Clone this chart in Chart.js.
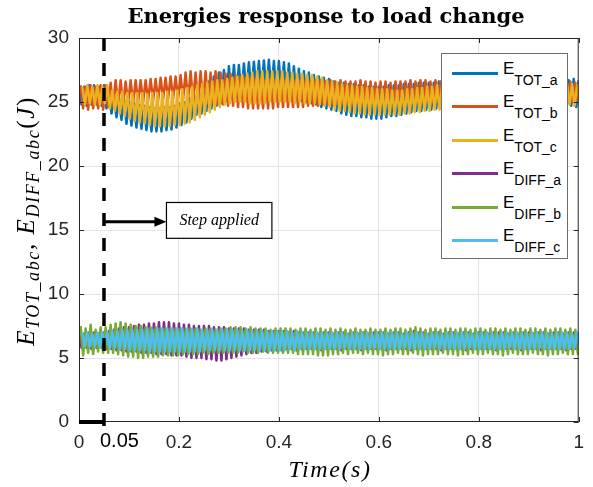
<!DOCTYPE html>
<html>
<head>
<meta charset="utf-8">
<script src="https://cdn.jsdelivr.net/npm/chart.js@4.4.1/dist/chart.umd.min.js"></script>
<style>
  body { margin: 0; background: #fff; }
  #wrap { position: relative; width: 593px; height: 487px; }
  #title { position: absolute; left: 75px; width: 502px; top: 3px; text-align: center;
           font: bold 21px "DejaVu Serif"; color: #000; white-space: nowrap; }
  #xlabel { position: absolute; left: 79px; width: 502px; top: 456px; text-align: center;
            font: italic 24px "Liberation Serif"; letter-spacing: 1.6px; color: #000; }
  #ylabel { position: absolute; left: -123px; top: 206px; width: 300px; height: 30px; line-height: 30px;
            text-align: center; transform: rotate(-90deg); transform-origin: 150px 15px;
            font: italic 25px "Liberation Serif"; letter-spacing: 1.6px; color: #000; white-space: nowrap; }
  #ylabel span.s { font-size: 18px; position: relative; top: 5px; }
  #ylabel span.u { font-style: normal; }
  #legend { position: absolute; left: 441px; top: 53px; width: 125px; height: 204px;
            background: #fff; border: 1px solid #6e6e6e; }
  .row { position: absolute; left: 0; height: 30px; width: 125px; }
  .row .ln { position: absolute; left: 10px; top: 14px; width: 46px; height: 3px; }
  .row .tx { position: absolute; left: 61px; top: 1px; font: 17px "Liberation Sans"; color: #000; white-space: nowrap; }
  .row .tx span { font-size: 14px; position: relative; top: 11px; }
</style>
</head>
<body>
<div id="wrap">
  <canvas id="chart" width="593" height="487"></canvas>
  <div id="title">Energies response to load change</div>
  <div id="xlabel">Time(s)</div>
  <div id="ylabel">E<span class="s">TOT_abc</span>, E<span class="s">DIFF_abc</span><span class="u">(</span>J<span class="u">)</span></div>
  <div id="legend"></div>
</div>
<script>
// ripple peaks (hi, at t = k*0.01) and troughs (lo, at t = k*0.01 + 0.005)
const totAHi = [26.3,26.2,26.3,26.3,26.2,26.3, 25.8,25.5,25.3,25.2,25.0, 24.9,24.8,24.7,24.6,24.5,
  24.5,24.6,24.6,24.7,24.9, 25.0,25.3,25.6,25.9,26.3, 26.6,27.0,27.3,27.5,27.8, 27.9,27.9,28.0,28.1,28.15,
  28.2,28.25,28.3,28.2,28.2, 28.1,28.0,27.8,27.6,27.4, 27.3,27.1,27.0,26.9,26.8, 26.6,26.5,26.5,26.4,26.4,
  26.3,26.3,26.2,26.2,26.2, 26.2,26.3,26.3,26.3,26.4, 26.4,26.4,26.5,26.5,26.5,
  26.5,26.6,26.5,26.6,26.6,26.5,26.6,26.6,26.7,26.6, 26.6,26.7,26.6,26.7,26.7,26.6,26.7,26.7,26.6,26.7,
  26.7,26.7,26.6,26.7,26.7,26.8,26.7,26.7,26.8,26.7];
const totALo = [24.8,24.7,24.8,24.8,24.7, 24.5,24.1,23.8,23.6,23.3, 23.15,23.0,22.9,22.8,22.7, 22.7,22.7,22.8,22.85,23.0,
  23.2,23.4,23.7,24.0,24.1, 24.3,24.5,24.7,24.9,25.1, 25.3,25.4,25.5,25.6,25.7, 25.7,25.7,25.7,25.6,25.6,
  25.5,25.4,25.3,25.2,25.1, 25.0,24.9,24.8,24.6,24.5, 24.4,24.3,24.1,24.0,23.9, 23.9,23.8,23.8,23.7,23.7,
  23.7,23.8,23.9,23.9,24.0, 24.1,24.2,24.3,24.3,24.4, 24.4,24.5,24.5,24.5,24.6,24.5,24.6,24.6,24.5,24.6,
  24.6,24.6,24.7,24.6,24.6,24.7,24.6,24.7,24.7,24.6, 24.7,24.6,24.7,24.7,24.6,24.7,24.7,24.6,24.7,24.6];
const totBHi = [26.3,26.2,26.3,26.2,26.3,26.3, 26.5,26.7,26.7,26.6,26.7, 26.7,26.7,26.7,26.8,26.8,
  26.9,26.9,27.0,27.0,27.1, 27.3,27.4,27.3,27.4,27.4, 27.3,27.4,27.3,27.2,27.2, 27.1,27.0,26.9,26.9,26.8,
  26.8,26.7,26.8,26.7,26.7,26.7,26.6,26.7,26.7,26.7,26.6,26.7,26.7,26.6,26.7,
  26.6,26.7,26.6,26.6,26.6,26.7,26.6,26.6,26.5,26.6, 26.6,26.5,26.6,26.6,26.6,26.7,26.6,26.7,26.7,26.6,
  26.7,26.6,26.6,26.7,26.6,26.6,26.5,26.6,26.6,26.5, 26.6,26.5,26.6,26.5,26.6,26.6,26.5,26.5,26.6,26.5,
  26.5,26.6,26.5,26.5,26.6,26.5,26.5,26.6,26.5,26.5];
const totBLo = [24.5,24.4,24.5,24.5,24.4, 24.6,24.7,24.8,24.8,24.9, 24.9,25.0,25.0,25.1,25.1, 25.1,25.2,25.2,25.2,25.2,
  25.2,25.1,25.1,25.0,25.0, 24.9,24.9,24.8,24.8,24.7, 24.7,24.6,24.6,24.5,24.5, 24.5,24.5,24.5,24.5,24.6,
  24.6,24.6,24.6,24.6,24.6, 24.7,24.7,24.7,24.8,24.8, 24.8,24.8,24.9,24.8,24.9,24.9,24.9,24.9,24.9,24.9,
  24.9,25.0,24.9,25.0,25.0,25.0,24.9,25.0,25.0,25.0, 25.0,25.0,25.0,24.9,25.0,25.0,25.0,25.0,24.9,25.0,
  25.0,25.0,25.0,25.0,24.9,25.0,25.0,25.0,25.0,25.0, 25.0,24.9,25.0,25.0,25.0,25.0,25.0,24.9,25.0,25.0];
const totCHi = [26.2,26.3,26.2,26.3,26.2,26.3, 25.9,25.8,25.8,25.7,25.7, 25.7,25.7,25.6,25.7,25.7,
  25.7,25.8,25.8,25.9,26.0, 26.1,26.2,26.3,26.4,26.5, 26.6,26.7,26.7,26.8,26.9, 27.0,27.1,27.2,27.3,27.4,
  27.4,27.4,27.4,27.4,27.4, 27.3,27.3,27.2,27.2,27.1, 27.1,27.0,26.9,26.7,26.6, 26.5,26.4,26.3,26.3,26.2,
  26.2,26.1,26.1,26.0,26.0, 26.0,25.9,25.9,25.9,26.0, 26.0,26.1,26.1,26.2,26.2,
  26.3,26.3,26.3,26.3,26.4,26.3,26.4,26.4,26.4,26.4, 26.4,26.3,26.4,26.4,26.4,26.3,26.4,26.4,26.4,26.3,
  26.4,26.4,26.4,26.3,26.4,26.4,26.4,26.4,26.3,26.4];
const totCLo = [24.8,24.9,24.8,24.8,24.9, 24.5,24.3,24.1,23.9,23.7, 23.5,23.4,23.3,23.2,23.1, 23.1,23.1,23.1,23.2,23.2,
  23.3,23.4,23.6,23.8,24.0, 24.2,24.4,24.6,24.8,24.9, 25.0,25.0,25.0,24.9,24.9, 24.9,24.9,25.0,25.0,25.0,
  25.0,25.0,24.9,25.0,24.9, 24.9,24.9,24.8,24.7,24.6, 24.4,24.3,24.3,24.2,24.1, 24.1,24.0,24.0,24.0,24.0,
  24.0,24.0,24.0,24.0,24.1, 24.1,24.2,24.2,24.3,24.3, 24.4,24.4,24.5,24.5,24.5,24.6,24.6,24.6,24.7,24.7,
  24.7,24.7,24.7,24.8,24.7,24.8,24.8,24.7,24.8,24.8, 24.8,24.8,24.7,24.8,24.8,24.8,24.8,24.8,24.7,24.8];
const diffAHi = [7.0,6.9,7.0,7.0,6.9,7.0, 7.1,7.2,7.3,7.4,7.4, 7.5,7.6,7.6,7.7,7.7, 7.8,7.8,7.8,7.7,7.7,
  7.6,7.6,7.5,7.5,7.5, 7.5,7.4,7.4,7.4,7.3, 7.3,7.3,7.3,7.2,7.2, 7.2,7.2,7.1,7.1,7.1,
  7.1,7.0,7.1,7.0,7.0,7.0,7.0,6.9,7.0,7.0, 6.9,7.0,7.0,6.9,7.0,6.9,7.0,6.9,7.0,7.0,
  7.0,6.9,7.0,7.0,6.9,7.0,7.1,7.0,7.0,6.9, 7.0,7.0,6.9,7.0,7.0,6.9,7.0,7.0,6.9,7.0,
  7.0,6.9,7.0,7.0,7.0,6.9,7.0,6.9,7.0,7.0, 6.9,7.0,7.0,6.9,7.0,7.0,6.9,7.0,7.0,6.9];
const diffALo = [5.8,5.8,5.7,5.8,5.8, 5.7,5.7,5.6,5.6,5.5, 5.5,5.5,5.4,5.4,5.4, 5.3,5.3,5.3,5.2,5.2,
  5.2,5.1,5.0,5.0,5.0, 4.9,4.9,4.8,4.8,4.9, 5.0,5.1,5.2,5.3,5.4, 5.4,5.5,5.5,5.6,5.6,
  5.6,5.7,5.7,5.6,5.7,5.7,5.7,5.7,5.6,5.7, 5.7,5.7,5.6,5.7,5.7,5.7,5.6,5.7,5.7,5.7,
  5.7,5.6,5.7,5.7,5.7,5.7,5.6,5.7,5.7,5.7, 5.7,5.7,5.6,5.7,5.7,5.7,5.7,5.6,5.7,5.7,
  5.7,5.7,5.7,5.6,5.7,5.7,5.7,5.7,5.6,5.7, 5.7,5.7,5.6,5.7,5.7,5.7,5.7,5.6,5.7,5.7];
const diffBHi = [7.5,7.3,7.6,7.2,7.4,7.4, 7.6,7.7,7.8,7.7,7.6, 7.5,7.5,7.4,7.4,7.4, 7.3,7.3,7.3,7.3,7.3,
  7.2,7.3,7.3,7.2,7.3,7.3,7.2,7.3,7.3,7.4, 7.4,7.4,7.3,7.4,7.3,7.3,7.3,7.2,7.3,7.3,
  7.3,7.3,7.2,7.3,7.3,7.2,7.3,7.3,7.2,7.3, 7.2,7.3,7.2,7.2,7.3,7.2,7.2,7.3,7.2,7.2,
  7.3,7.2,7.3,7.3,7.2,7.3,7.4,7.3,7.2,7.3, 7.3,7.2,7.3,7.3,7.2,7.3,7.3,7.2,7.3,7.3,
  7.2,7.3,7.3,7.2,7.3,7.2,7.3,7.3,7.2,7.3, 7.3,7.2,7.3,7.2,7.3,7.3,7.2,7.3,7.2,7.3];
const diffBLo = [5.2,5.4,5.3,5.5,5.4, 5.4,5.4,5.3,5.2,5.1, 5.1,5.0,5.0,5.1,5.1, 5.1,5.2,5.2,5.2,5.2,
  5.3,5.3,5.3,5.3,5.4,5.3,5.4,5.4,5.4,5.4, 5.4,5.4,5.5,5.4,5.4,5.4,5.5,5.4,5.4,5.4,
  5.4,5.4,5.4,5.3,5.3,5.3,5.3,5.2,5.2,5.2, 5.3,5.3,5.4,5.3,5.4,5.4,5.3,5.4,5.3,5.3,
  5.2,5.3,5.3,5.4,5.3,5.3,5.4,5.3,5.2,5.3, 5.3,5.3,5.4,5.3,5.3,5.2,5.3,5.3,5.4,5.3,
  5.3,5.4,5.3,5.3,5.2,5.3,5.4,5.3,5.3,5.3, 5.4,5.3,5.3,5.2,5.3,5.3,5.4,5.3,5.3,5.3];
const diffCHi = [7.0,7.0,6.9,7.0,7.0,7.0, 7.1,7.1,7.2,7.2,7.2,
  7.2,7.2,7.3,7.2,7.3,7.3,7.3,7.3,7.3,7.3, 7.3,7.2,7.3,7.2,7.2,7.2,7.2,7.2,7.2,7.2,
  7.2,7.1,7.2,7.1,7.1,7.1,7.1,7.1,7.1,7.1, 7.1,7.0,7.1,7.0,7.0,7.0,7.0,7.0,7.0,7.0,
  7.0,7.0,6.9,7.0,7.0,7.0,7.0,6.9,7.0,7.0, 7.0,7.0,7.0,6.9,7.0,7.0,7.0,7.0,6.9,7.0,
  7.0,6.9,7.0,7.0,7.0,7.0,7.0,6.9,7.0,7.0, 7.0,7.0,6.9,7.0,7.0,7.0,7.0,7.0,6.9,7.0,
  7.0,7.0,7.0,6.9,7.0,7.0,7.0,6.9,7.0,7.0];
const diffCLo = [5.9,5.9,5.9,5.9,5.9, 5.8,5.8,5.7,5.7,5.6, 5.6,5.6,5.6,5.5,5.5,5.5,5.5,5.5,5.5,5.5,
  5.5,5.5,5.5,5.5,5.6,5.6,5.6,5.6,5.6,5.6, 5.6,5.6,5.6,5.6,5.6,5.6,5.6,5.6,5.6,5.6,
  5.6,5.7,5.6,5.7,5.7,5.7,5.7,5.7,5.7,5.7, 5.7,5.7,5.8,5.7,5.7,5.7,5.7,5.7,5.8,5.7,
  5.7,5.7,5.7,5.7,5.8,5.7,5.7,5.7,5.7,5.7, 5.8,5.7,5.7,5.7,5.7,5.7,5.7,5.8,5.7,5.7,
  5.7,5.7,5.7,5.7,5.7,5.8,5.7,5.7,5.7,5.7, 5.7,5.8,5.7,5.7,5.7,5.7,5.7,5.7,5.8,5.7];

const seriesNames = ['TOT_a', 'TOT_b', 'TOT_c', 'DIFF_a', 'DIFF_b', 'DIFF_c'];
const seriesHi = [totAHi, totBHi, totCHi, diffAHi, diffBHi, diffCHi];
const seriesLo = [totALo, totBLo, totCLo, diffALo, diffBLo, diffCLo];
const colors = ['#0072BD', '#D95319', '#EDB120', '#7E2F8E', '#77AC30', '#4DBEEE'];
const phase = [0, 0.0033, 0.0067, 0, 0.0033, 0.0067];

const xTicks = [0, 0.05, 0.2, 0.4, 0.6, 0.8, 1];
const xTickLabels = ['0', '', '0.2', '0.4', '0.6', '0.8', '1'];
const yTicks = [0, 5, 10, 15, 20, 25, 30];

// step annotation
const stepTime = 0.05;
const stepLabel = '0.05';
const arrowY = 15.65;
const arrowTip = 0.175;
const noteBox = { x0: 0.175, x1: 0.386, y0: 14.35, y1: 17.15 };
const noteText = 'Step applied';

const period = 0.01;

function buildSeries(hi, lo, ph) {
  const pts = [];
  for (let k = 0; k < hi.length; k++) {
    pts.push({ x: k * period + ph, y: hi[k] });
    if (k < lo.length) pts.push({ x: k * period + period / 2 + ph, y: lo[k] });
  }
  return pts;
}

const datasets = seriesNames.map((name, i) => ({
  label: 'E' + name,
  data: buildSeries(seriesHi[i], seriesLo[i], phase[i]),
  borderColor: colors[i],
  borderWidth: 2.5,
  borderJoinStyle: 'round',
  pointRadius: 0,
  tension: 0,
  order: seriesNames.length - 1 - i
}));

// legend (HTML so subscripts stay as text)
const legend = document.getElementById('legend');
legend.innerHTML = seriesNames.map((name, i) =>
  `<div class="row" style="top:${4 + i * 33.4}px"><div class="ln" style="background:${colors[i]}"></div>` +
  `<div class="tx">E<span>${name}</span></div></div>`).join('');

const overlay = {
  id: 'overlay',
  afterDatasetsDraw(chart) {
    const { ctx, chartArea: a, scales: { x, y } } = chart;
    ctx.save();
    // axes box + inward ticks
    ctx.strokeStyle = '#262626';
    ctx.lineWidth = 1;
    ctx.strokeRect(a.left + 0.5, a.top + 0.5, a.width - 1, a.height - 1);
    ctx.beginPath();
    xTicks.forEach(v => {
      if (v === stepTime) return;
      const px = Math.round(x.getPixelForValue(v)) + 0.5;
      ctx.moveTo(px, a.bottom); ctx.lineTo(px, a.bottom - 5);
      ctx.moveTo(px, a.top); ctx.lineTo(px, a.top + 5);
    });
    yTicks.forEach(v => {
      const py = Math.round(y.getPixelForValue(v)) + 0.5;
      ctx.moveTo(a.left, py); ctx.lineTo(a.left + 5, py);
      ctx.moveTo(a.right, py); ctx.lineTo(a.right - 5, py);
    });
    ctx.stroke();

    // step signal: solid on the time axis, dashed vertical
    const sx = x.getPixelForValue(stepTime);
    ctx.strokeStyle = '#000';
    ctx.lineWidth = 4;
    ctx.beginPath();
    ctx.moveTo(x.getPixelForValue(0), y.getPixelForValue(0));
    ctx.lineTo(sx, y.getPixelForValue(0));
    ctx.stroke();
    ctx.lineWidth = 3.5;
    ctx.setLineDash([13, 12]);
    ctx.beginPath();
    ctx.moveTo(sx, y.getPixelForValue(0) + 4);
    ctx.lineTo(sx, y.getPixelForValue(30));
    ctx.stroke();
    ctx.setLineDash([]);

    // "0.05" label sits just right of the step line
    ctx.fillStyle = '#000';
    ctx.font = '20px "Liberation Sans"';
    ctx.textAlign = 'left';
    ctx.textBaseline = 'top';
    ctx.fillText(stepLabel, sx - 4, a.bottom + 9);

    // arrow
    const ay = y.getPixelForValue(arrowY);
    const tip = x.getPixelForValue(arrowTip);
    ctx.lineWidth = 3;
    ctx.beginPath();
    ctx.moveTo(sx, ay); ctx.lineTo(tip - 9, ay);
    ctx.stroke();
    ctx.beginPath();
    ctx.moveTo(tip, ay); ctx.lineTo(tip - 12, ay - 5); ctx.lineTo(tip - 12, ay + 5);
    ctx.closePath(); ctx.fill();

    // note box
    const bx0 = x.getPixelForValue(noteBox.x0), bx1 = x.getPixelForValue(noteBox.x1);
    const by0 = y.getPixelForValue(noteBox.y1), by1 = y.getPixelForValue(noteBox.y0);
    ctx.fillStyle = '#fff';
    ctx.fillRect(bx0, by0, bx1 - bx0, by1 - by0);
    ctx.lineWidth = 1.2;
    ctx.strokeRect(bx0, by0, bx1 - bx0, by1 - by0);
    ctx.fillStyle = '#000';
    ctx.font = 'italic 16px "Liberation Serif"';
    ctx.textAlign = 'center';
    ctx.textBaseline = 'middle';
    ctx.fillText(noteText, (bx0 + bx1) / 2, (by0 + by1) / 2);
    ctx.restore();
  }
};

new Chart(document.getElementById('chart'), {
  type: 'line',
  data: { datasets },
  options: {
    responsive: false,
    animation: false,
    devicePixelRatio: 1,
    parsing: false,
    layout: { padding: { left: 0, top: 38, right: 12, bottom: 0 } },
    plugins: { legend: { display: false }, tooltip: { enabled: false } },
    scales: {
      x: {
        type: 'linear', min: 0, max: 1,
        afterBuildTicks: s => { s.ticks = xTicks.map(v => ({ value: v })); },
        afterFit: s => { s.height = 65; },
        border: { display: false },
        grid: {
          drawTicks: false,
          color: c => (c.tick && (c.tick.value === 0 || c.tick.value === 1 || c.tick.value === stepTime)) ? 'rgba(0,0,0,0)' : '#e3e3e3'
        },
        ticks: {
          autoSkip: false, maxRotation: 0, minRotation: 0, padding: 9,
          callback: (v, i) => xTickLabels[i],
          color: '#262626',
          font: { family: 'Liberation Sans', size: 19 }
        }
      },
      y: {
        min: 0, max: 30,
        afterBuildTicks: s => { s.ticks = yTicks.map(v => ({ value: v })); },
        afterFit: s => { s.width = 79; },
        border: { display: false },
        grid: {
          drawTicks: false,
          color: c => (c.tick && (c.tick.value === 0 || c.tick.value === 30)) ? 'rgba(0,0,0,0)' : '#e3e3e3'
        },
        ticks: { padding: 10, color: '#262626', font: { family: 'Liberation Sans', size: 19 } }
      }
    }
  },
  plugins: [overlay]
});
</script>
</body>
</html>
